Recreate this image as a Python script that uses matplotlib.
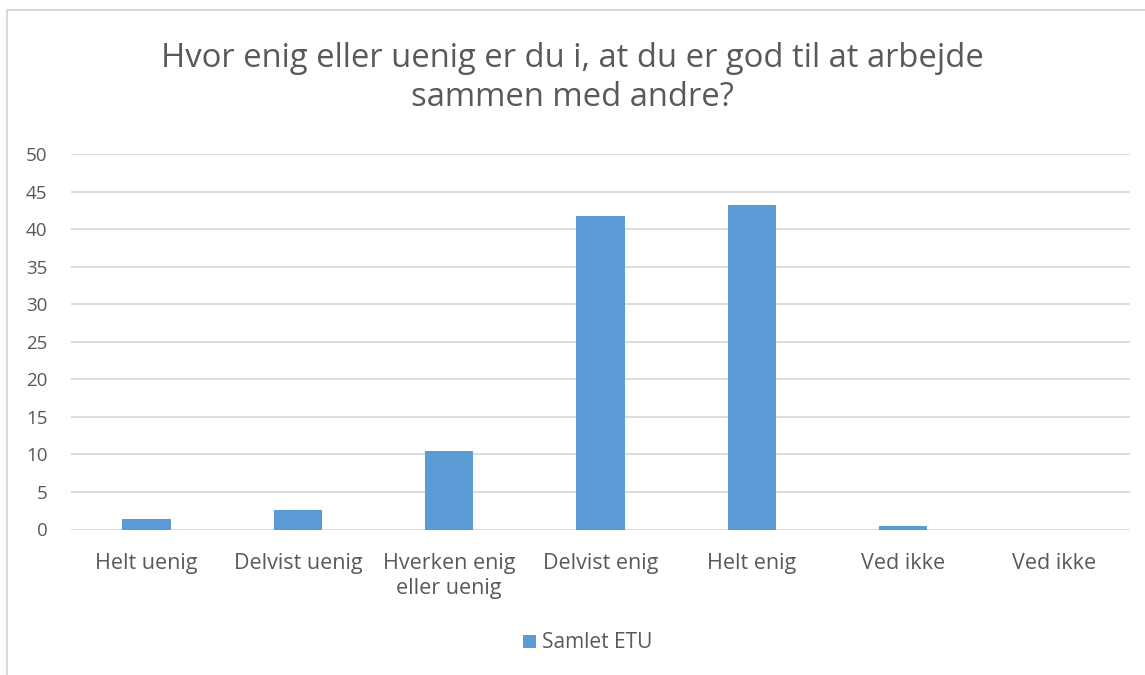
import matplotlib
matplotlib.use("Agg")
import matplotlib.pyplot as plt
from matplotlib.lines import Line2D

categories = ["Helt uenig", "Delvist uenig", "Hverken enig\neller uenig", "Delvist enig",
              "Helt enig", "Ved ikke", "Ved ikke"]
values = [1.4, 2.6, 10.4, 41.7, 43.2, 0.5, 0.0]
series_name = "Samlet ETU"
title = "Hvor enig eller uenig er du i, at du er god til at arbejde\nsammen med andre?"

plt.rcParams['font.family'] = ['Open Sans', 'DejaVu Sans']
W, H = 1145, 675
fig = plt.figure(figsize=(W / 100, H / 100), dpi=100)

# outer chart border
fig.add_artist(Line2D([7 / W, 7 / W], [0, 1 - 10 / H], transform=fig.transFigure, color="#d9d9d9", lw=1.5))
fig.add_artist(Line2D([7 / W, 1], [1 - 10 / H, 1 - 10 / H], transform=fig.transFigure, color="#d9d9d9", lw=1.5))

ax = fig.add_axes([71 / W, 1 - 529.5 / H, (1130 - 71) / W, (529.5 - 154) / H])
x = list(range(len(categories)))
ax.bar(x, values, width=0.32, color="#5b9bd5", label=series_name, zorder=3)
ax.set_xlim(-0.5, len(categories) - 0.5)
ax.set_ylim(0, 50)
ax.set_yticks(range(0, 51, 5))
ax.set_xticks(x)
ax.set_xticklabels(categories, fontsize=15.5, color="#595959", linespacing=1.25)
ax.tick_params(axis="y", labelsize=13.5, labelcolor="#595959", length=0, pad=17)
ax.tick_params(axis="x", length=0, pad=17)
ax.yaxis.grid(True, color="#d9d9d9", lw=1.3, zorder=0)
for s in ax.spines.values():
    s.set_visible(False)

fig.text(0.5, 1 - 78 / H, title, ha="center", va="center", fontsize=23.6, color="#595959", linespacing=1.25)

leg = fig.legend(loc="center", bbox_to_anchor=(588 / W, 1 - 643 / H), frameon=False, fontsize=15,
                 handlelength=0.6, handleheight=0.6, handletextpad=0.3)
for t in leg.get_texts():
    t.set_color("#595959")

fig.savefig("out.png", dpi=100)
